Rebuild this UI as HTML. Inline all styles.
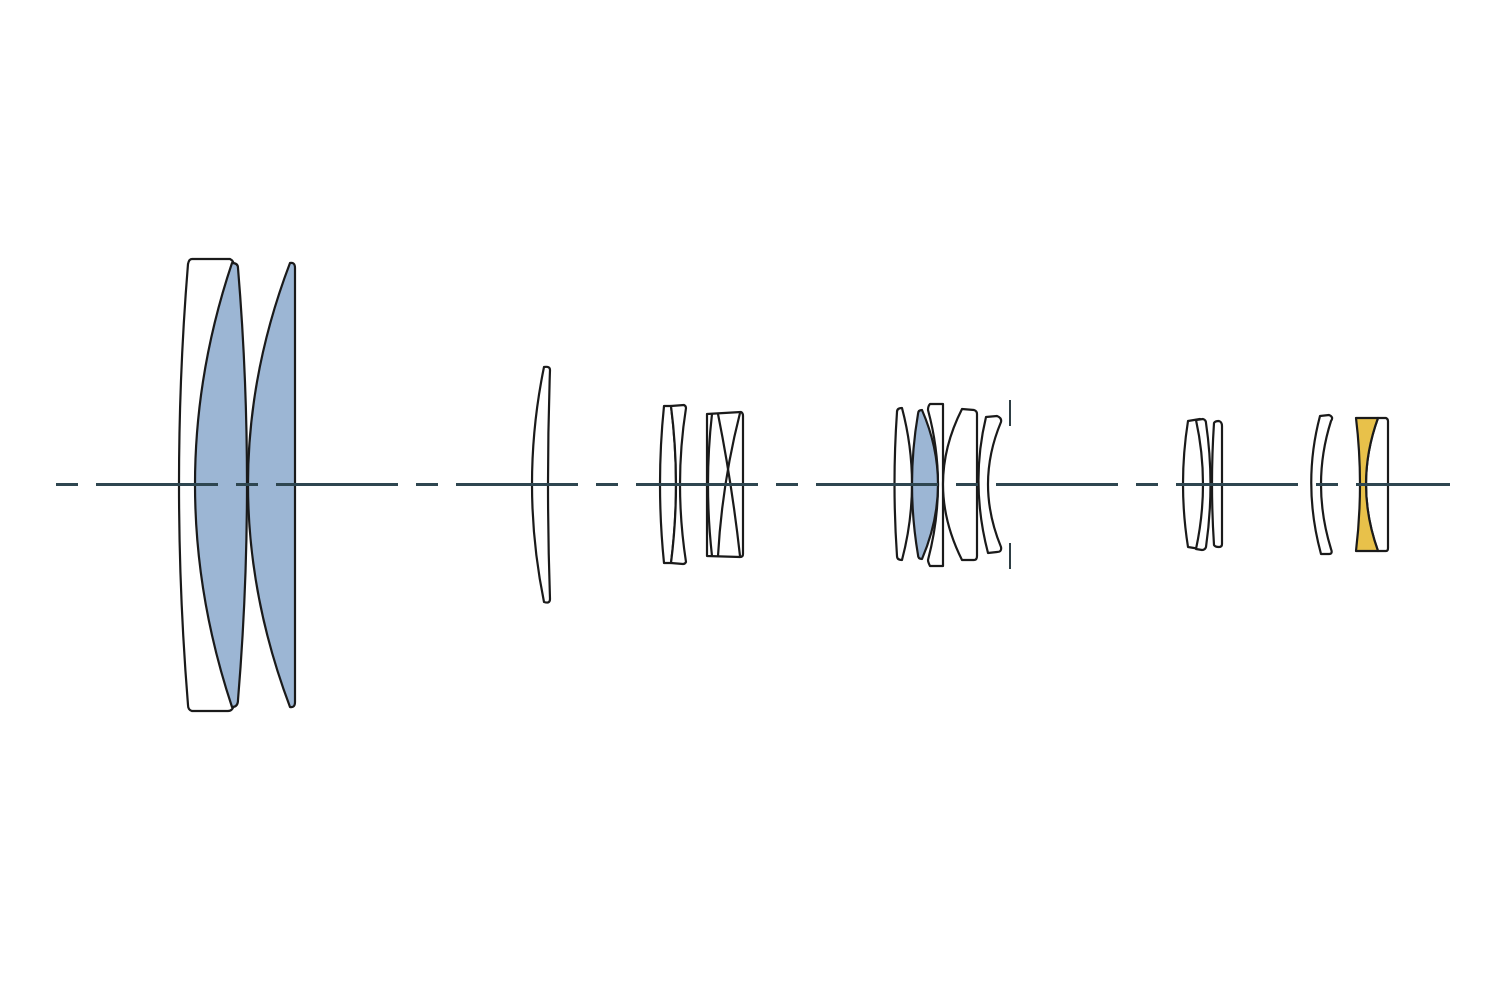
<!DOCTYPE html>
<html><head><meta charset="utf-8"><style>html,body{margin:0;padding:0;background:#fff}svg{display:block}</style></head>
<body>
<svg width="1492" height="994" viewBox="0 0 1492 994" xmlns="http://www.w3.org/2000/svg">
<rect width="1492" height="994" fill="#fff"/>
<g fill="#fff" stroke="#1a1a1a" stroke-width="2.2" stroke-linejoin="round">
<!-- group 1 -->
<path d="M192,259 L230,259 Q234,261 234,266 Q160,484 234,704 Q233,711 228,711 L192,711 Q188,710 188,705 Q170,484 188,264 Q189,259 192,259 Z"/>
<path fill="#9cb6d4" d="M232,263 Q238,263 238,268 Q256,484 238,700 Q238,707 232,707 Q158,484 232,263 Z"/>
<path fill="#9cb6d4" d="M290,263 Q295,262 295,268 L295,702 Q295,708 290,707 Q206,484 290,263 Z"/>
<!-- thin meniscus -->
<path d="M544,367 Q550,366 550,370 Q546,484 550,599 Q550,604 544,602 Q520,484 544,367 Z"/>
<!-- group 2 -->
<path d="M664,406 L671,406 Q681,484 671,563 L664,563 Q656,484 664,406 Z"/>
<path d="M671,406 L684,405 Q686,406 686,408 Q674,484 686,562 Q685,564 683,564 L671,563 Q681,484 671,406 Z"/>
<path d="M707,414 L741,412 Q743,413 743,416 L743,554 Q743,557 740,557 L707,556 Z"/>
<path fill="none" d="M718,414 Q732,484 740,556"/>
<path fill="none" d="M740,413 Q722,484 718,556"/>
<path fill="none" d="M712,414 Q704,484 712,556"/>
<!-- group 3 -->
<path d="M902,408 Q922,484 902,560 Q897,560 897,556 Q892,484 897,412 Q897,408 902,408 Z"/>
<path d="M930,404 L943,404 L943,566 L930,566 Q928,562 928,560 Q948,484 928,410 Q928,406 930,404 Z"/>
<path fill="#9cb6d4" d="M922,410 Q954,484 922,559 Q918,559 918,555 Q906,484 918,414 Q918,410 922,410 Z"/>
<path d="M962,409 L974,410 Q977,411 977,414 L977,556 Q977,560 974,560 L962,560 Q924,484 962,409 Z"/>
<path d="M986,417 L997,416 Q1002,418 1001,422 Q975,484 1001,547 Q1002,552 997,552 L988,553 Q970,484 986,417 Z"/>
<!-- group 4 -->
<path d="M1188,421 L1200,419 Q1210,484 1200,549 L1188,547 Q1178,484 1188,421 Z"/>
<path d="M1196,420 L1203,419 Q1206,420 1206,423 Q1215,484 1206,547 Q1205,550 1202,550 L1196,549 Q1210,484 1196,420 Z"/>
<path d="M1214,423 Q1215,421 1219,421 Q1222,422 1222,426 L1222,544 Q1222,547 1219,547 Q1215,547 1214,545 Q1210,484 1214,423 Z"/>
<path d="M1320,416 L1329,415 Q1334,417 1331,421 Q1311,484 1331,549 Q1333,554 1329,554 L1321,554 Q1302,484 1320,416 Z"/>
<path d="M1378,418 L1386,418 Q1388,419 1388,421 L1388,548 Q1388,551 1386,551 L1378,551 Q1354,484 1378,418 Z"/>
<path fill="#e8c14a" d="M1356,418 L1378,418 Q1354,484 1378,551 L1356,551 Q1364,484 1356,418 Z"/>
</g>
<g stroke="#2e3e44" stroke-width="2">
<line x1="1010" y1="400" x2="1010" y2="426"/>
<line x1="1010" y1="543" x2="1010" y2="569"/>
</g>
<line x1="56" y1="484.5" x2="1450" y2="484.5" stroke="#2e4650" stroke-width="3" stroke-dasharray="22 18 122 18"/>
</svg>
</body></html>
